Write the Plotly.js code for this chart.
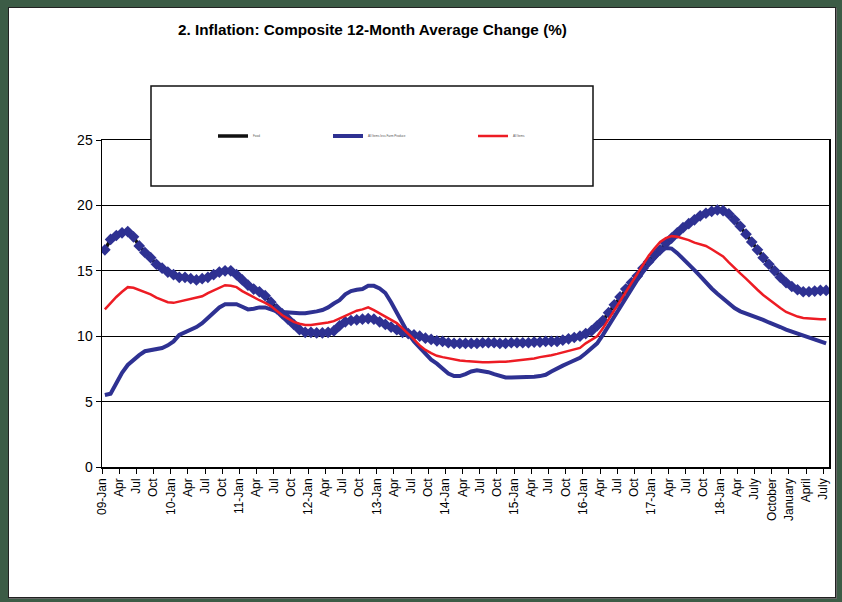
<!DOCTYPE html>
<html>
<head>
<meta charset="utf-8">
<script src="https://cdn.plot.ly/plotly-3.0.1.min.js"></script>
<style>
  html, body { margin: 0; padding: 0; width: 842px; height: 602px; background: #3C5C46; overflow: hidden; }
  #frame { position: absolute; left: 8px; top: 7px; width: 826px; height: 589px; background: #fff;
           border: 1px solid #222; box-shadow: 1px 1px 0 #666; }
  #chart { width: 826px; height: 589px; }
</style>
</head>
<body>
<div id="frame"><div id="chart"></div></div>
<script>
// Monthly observations, Jan 2009 .. Jul 2019 (127 months)
const tickLabels = [
  "09-Jan","Apr","Jul","Oct","10-Jan","Apr","Jul","Oct","11-Jan","Apr","Jul","Oct",
  "12-Jan","Apr","Jul","Oct","13-Jan","Apr","Jul","Oct","14-Jan","Apr","Jul","Oct",
  "15-Jan","Apr","Jul","Oct","16-Jan","Apr","Jul","Oct","17-Jan","Apr","Jul","Oct",
  "18-Jan","Apr","July","October","January","April","July"
];

const food = [
  16.6, 17.4, 17.7, 17.9, 18.0, 17.6, 16.9, 16.4, 16.0, 15.5, 15.2, 14.9,
  14.7, 14.5, 14.5, 14.4, 14.3, 14.4, 14.5, 14.7, 14.9, 15.0, 15.0, 14.7,
  14.3, 13.9, 13.6, 13.4, 13.1, 12.6, 12.1, 11.7, 11.3, 10.9, 10.5, 10.3,
  10.3, 10.25, 10.25, 10.3, 10.4, 10.8, 11.1, 11.2, 11.25, 11.3, 11.35, 11.3,
  11.1, 10.9, 10.7, 10.5, 10.3, 10.2, 10.1, 10.0, 9.85, 9.75, 9.65, 9.6,
  9.5, 9.45, 9.45, 9.45, 9.45, 9.45, 9.5, 9.5, 9.5, 9.45, 9.45, 9.5,
  9.5, 9.5, 9.5, 9.55, 9.55, 9.6, 9.6, 9.6, 9.7, 9.8, 9.9, 10.0,
  10.2, 10.4, 10.8, 11.2, 11.8, 12.4, 13.0, 13.6, 14.1, 14.6, 15.2, 15.7,
  16.2, 16.6, 17.1, 17.5, 17.9, 18.3, 18.6, 18.9, 19.2, 19.4, 19.55, 19.65,
  19.6, 19.35, 18.9, 18.4, 17.8, 17.2, 16.6, 16.0, 15.5, 15.0, 14.5, 14.1,
  13.8, 13.55, 13.4, 13.4, 13.45, 13.5, 13.5
];

const allLessFarm = [
  5.5, 5.6, 6.4, 7.2, 7.8, 8.2, 8.55, 8.85, 8.95, 9.0, 9.1, 9.3,
  9.6, 10.1, 10.3, 10.5, 10.7, 11.0, 11.4, 11.8, 12.2, 12.45, 12.45, 12.45,
  12.25, 12.05, 12.1, 12.2, 12.2, 12.05, 11.9, 11.85, 11.8, 11.75, 11.75, 11.75,
  11.8, 11.9, 12.0, 12.2, 12.5, 12.75, 13.2, 13.45, 13.55, 13.6, 13.85, 13.85,
  13.65, 13.3, 12.6, 11.8, 10.9, 10.2, 9.6, 9.1, 8.6, 8.2, 7.9, 7.5,
  7.15, 6.95, 6.95, 7.1, 7.3, 7.4, 7.35, 7.25, 7.1, 6.95, 6.85, 6.85,
  6.85, 6.85, 6.85, 6.9, 6.95, 7.05, 7.3, 7.55, 7.75, 7.95, 8.15, 8.35,
  8.7, 9.1, 9.45, 10.1, 10.8, 11.6, 12.3, 13.0, 13.7, 14.3, 14.9, 15.5,
  15.95, 16.45, 16.75, 16.7, 16.35, 15.95, 15.5, 15.05, 14.6, 14.1, 13.65, 13.25,
  12.85, 12.45, 12.15, 11.9, 11.75, 11.6, 11.4, 11.25, 11.05, 10.9, 10.7, 10.5,
  10.35, 10.2, 10.05, 9.9, 9.75, 9.6, 9.45
];

const allItems = [
  12.05, 12.55, 13.0, 13.4, 13.75, 13.7, 13.55, 13.35, 13.2, 12.95, 12.75, 12.6,
  12.55, 12.65, 12.75, 12.85, 12.9, 13.05, 13.3, 13.5, 13.7, 13.9, 13.85, 13.75,
  13.45, 13.2, 12.95, 12.75, 12.55, 12.3, 11.95, 11.6, 11.35, 11.1, 10.95, 10.85,
  10.85, 10.9, 11.0, 11.05, 11.15, 11.35, 11.6, 11.8, 11.95, 12.05, 12.2, 12.0,
  11.75, 11.5, 11.25, 11.0, 10.6, 10.2, 9.75, 9.3, 8.95, 8.7, 8.5, 8.4,
  8.3, 8.2, 8.15, 8.1, 8.05, 8.0, 8.0, 8.0, 8.05, 8.05, 8.05, 8.1,
  8.1, 8.15, 8.2, 8.3, 8.4, 8.45, 8.55, 8.65, 8.75, 8.9, 9.0, 9.1,
  9.45, 9.7, 10.0, 10.6, 11.3, 12.0, 12.7, 13.4, 14.1, 14.8, 15.5, 16.15,
  16.7, 17.2, 17.5, 17.65, 17.6, 17.5, 17.35, 17.15, 17.0, 16.9, 16.65, 16.4,
  16.1, 15.65, 15.2, 14.8, 14.4, 13.95, 13.55, 13.15, 12.8, 12.45, 12.15, 11.85,
  11.65, 11.5, 11.4, 11.35, 11.3, 11.3, 11.3
];

const seriesNames = ["Food", "All Items less Farm Produce", "All Items"];

const months = food.map((_, i) => i);
const tickVals = tickLabels.map((_, i) => i * 3 - 0.5);

const BLUE = "#2E3192", RED = "#ED1C24";
const FONT = "Liberation Sans, Arial, sans-serif";

const traces = [
  { x: months, y: food, name: seriesNames[0], type: "scatter", mode: "lines",
    line: { color: "#111111", width: 3.5 }, legend: "legend", hoverinfo: "skip" },
  { x: months, y: food, name: seriesNames[0], type: "scatter", mode: "markers",
    marker: { symbol: "diamond", size: 9, color: BLUE, line: { width: 0 } },
    showlegend: false },
  { x: months, y: allLessFarm, name: seriesNames[1], type: "scatter", mode: "lines",
    line: { color: BLUE, width: 4 }, legend: "legend2" },
  { x: months, y: allItems, name: seriesNames[2], type: "scatter", mode: "lines",
    line: { color: RED, width: 2.5 }, legend: "legend3" }
];

const legBase = { orientation: "h", bgcolor: "rgba(0,0,0,0)", borderwidth: 0,
  font: { family: FONT, size: 3, color: "#555" }, xanchor: "left", yanchor: "middle",
  itemclick: false, itemdoubleclick: false };

const layout = {
  width: 826, height: 589,
  margin: { l: 93, r: 6, t: 132, b: 130 },
  paper_bgcolor: "#ffffff", plot_bgcolor: "#ffffff",
  font: { family: FONT, color: "#000" },
  title: { text: "2. Inflation: Composite 12-Month Average Change (%)",
    font: { family: FONT, size: 15.3, color: "#000", weight: "bold" },
    x: 0.44, xref: "container", xanchor: "center",
    y: 1 - 22 / 589, yref: "container", yanchor: "middle" },
  xaxis: {
    range: [-0.5, 126.5], tickmode: "array", tickvals: tickVals, ticktext: tickLabels,
    tickangle: -90, tickfont: { family: FONT, size: 12, color: "#000" },
    ticks: "outside", ticklen: 5, tickwidth: 1, tickcolor: "#000",
    showline: true, linecolor: "#000", linewidth: 1.5, mirror: true,
    showgrid: false, zeroline: false, fixedrange: true
  },
  yaxis: {
    range: [0, 25], tickmode: "array", tickvals: [0, 5, 10, 15, 20, 25],
    tickfont: { family: FONT, size: 14, color: "#000" },
    ticks: "outside", ticklen: 5, tickwidth: 1, tickcolor: "#000",
    showline: true, linecolor: "#000", linewidth: 1.5, mirror: true,
    showgrid: true, gridcolor: "#000", gridwidth: 1, zeroline: false, fixedrange: true
  },
  shapes: [
    { type: "rect", xref: "paper", yref: "paper", layer: "above",
      x0: (151 - 102) / 727, x1: (593 - 102) / 727,
      y0: 1 - (186 - 140) / 327, y1: 1 + (140 - 86) / 327,
      fillcolor: "#ffffff", line: { color: "#111", width: 1.5 } }
  ],
  showlegend: true,
  legend: Object.assign({}, legBase, { x: (218 - 5 - 102) / 727, y: 1 + (140 - 136) / 327 }),
  legend2: Object.assign({}, legBase, { x: (333 - 5 - 102) / 727, y: 1 + (140 - 136) / 327 }),
  legend3: Object.assign({}, legBase, { x: (478 - 5 - 102) / 727, y: 1 + (140 - 136) / 327 })
};

Plotly.newPlot("chart", traces, layout, { displayModeBar: false, staticPlot: true });
</script>
</body>
</html>
